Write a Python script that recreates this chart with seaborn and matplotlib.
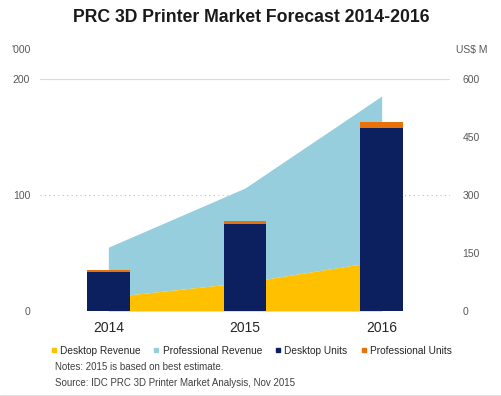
import matplotlib
matplotlib.use("Agg")
import matplotlib.pyplot as plt
from matplotlib.lines import Line2D
import seaborn as sns
import pandas as pd

# Data
years = ["2014", "2015", "2016"]
desktop_revenue = [36, 74, 130]          # US$ M
professional_revenue = [129, 244, 426]   # US$ M (stacked on desktop)
desktop_units = [33.6, 75, 158]          # '000
professional_units = [1.5, 2.2, 5]       # '000 (stacked on desktop)

units = pd.DataFrame({
    "year": years,
    "desktop": desktop_units,
    "total": [d + p for d, p in zip(desktop_units, professional_units)],
})

c_yellow = "#FFC000"
c_lblue = "#96CEDD"
c_navy = "#0C1F5E"
c_orange = "#E8710A"
c_grid = "#D9D9D9"
c_text = "#595959"

sns.set_style("white")
plt.rcParams["font.family"] = ["Liberation Sans", "DejaVu Sans"]

fig = plt.figure(figsize=(5.02, 3.96), dpi=100)
ax = fig.add_axes([40 / 502, 1 - 311 / 396, 410 / 502, 232 / 396])
ax2 = ax.twinx()

# revenue areas (drawn on the lower axes, ticks shown on the right)
x = [0, 1, 2]
top = [d + p for d, p in zip(desktop_revenue, professional_revenue)]
ax.fill_between(x, desktop_revenue, top, color=c_lblue, lw=0, zorder=2)
ax.fill_between(x, 0, desktop_revenue, color=c_yellow, lw=0, zorder=2)

# gridlines behind the areas
ax.axhline(600, color=c_grid, lw=0.8, zorder=1)
for v in [0, 300]:
    ax.axhline(v, color="#BFBFBF", lw=0.8, ls=(0, (1, 3)), zorder=1)

ax.set_ylim(0, 600)
ax.set_yticks([0, 150, 300, 450, 600])
ax.yaxis.tick_right()
ax.tick_params(axis="y", length=0, pad=9, labelsize=7.5, labelcolor=c_text)

# unit bars on the twin axes (ticks on the left)
sns.barplot(data=units, x="year", y="total", color=c_orange, width=0.31,
            saturation=1, errorbar=None, linewidth=0, ax=ax2)
sns.barplot(data=units, x="year", y="desktop", color=c_navy, width=0.31,
            saturation=1, errorbar=None, linewidth=0, ax=ax2)
ax2.set_ylim(0, 200)
ax2.set_yticks([0, 100, 200])
ax2.yaxis.tick_left()
ax2.tick_params(axis="y", length=0, pad=7, labelsize=7.5, labelcolor=c_text)
ax2.tick_params(axis="x", length=0, pad=9, labelsize=8.5, labelcolor="#262626")
for lab in ax2.get_xticklabels():
    lab.set_fontweight("bold")
ax2.set_xlabel("")
ax2.set_ylabel("")
ax.set_xlim(-0.5, 2.5)

for a in (ax, ax2):
    for s in a.spines.values():
        s.set_visible(False)

# axis unit labels
fig.text(31 / 502, 1 - 50 / 396, "'000", ha="right", va="center",
         fontsize=7.5, color=c_text)
fig.text(456 / 502, 1 - 50 / 396, "US$ M", ha="left", va="center",
         fontsize=7.5, color=c_text)

fig.text(0.5, 1 - 17 / 396, "PRC 3D Printer Market Forecast 2014-2016",
         ha="center", va="center", fontsize=12.7, fontweight="bold", color="#1A1A1A")

handles = [Line2D([], [], marker="s", ls="", color=c, markersize=3.5)
           for c in [c_yellow, c_lblue, c_navy, c_orange]]
labels = ["Desktop Revenue", "Professional Revenue", "Desktop Units", "Professional Units"]
fig.legend(handles, labels, ncol=4, loc="center", bbox_to_anchor=(0.5, 1 - 351 / 396),
           frameon=False, fontsize=7.3, handlelength=0.6, handletextpad=0.3,
           columnspacing=1.3, labelcolor="#262626")

fig.text(55 / 502, 1 - 367 / 396, "Notes: 2015 is based on best estimate.",
         fontsize=7, color="#404040", va="center")
fig.text(55 / 502, 1 - 383 / 396, "Source: IDC PRC 3D Printer Market Analysis, Nov 2015",
         fontsize=7, color="#404040", va="center")

fig.add_artist(Line2D([0, 1], [1 / 396, 1 / 396], color="#E0E0E0", lw=0.8))

fig.savefig("out.png", dpi=100)
